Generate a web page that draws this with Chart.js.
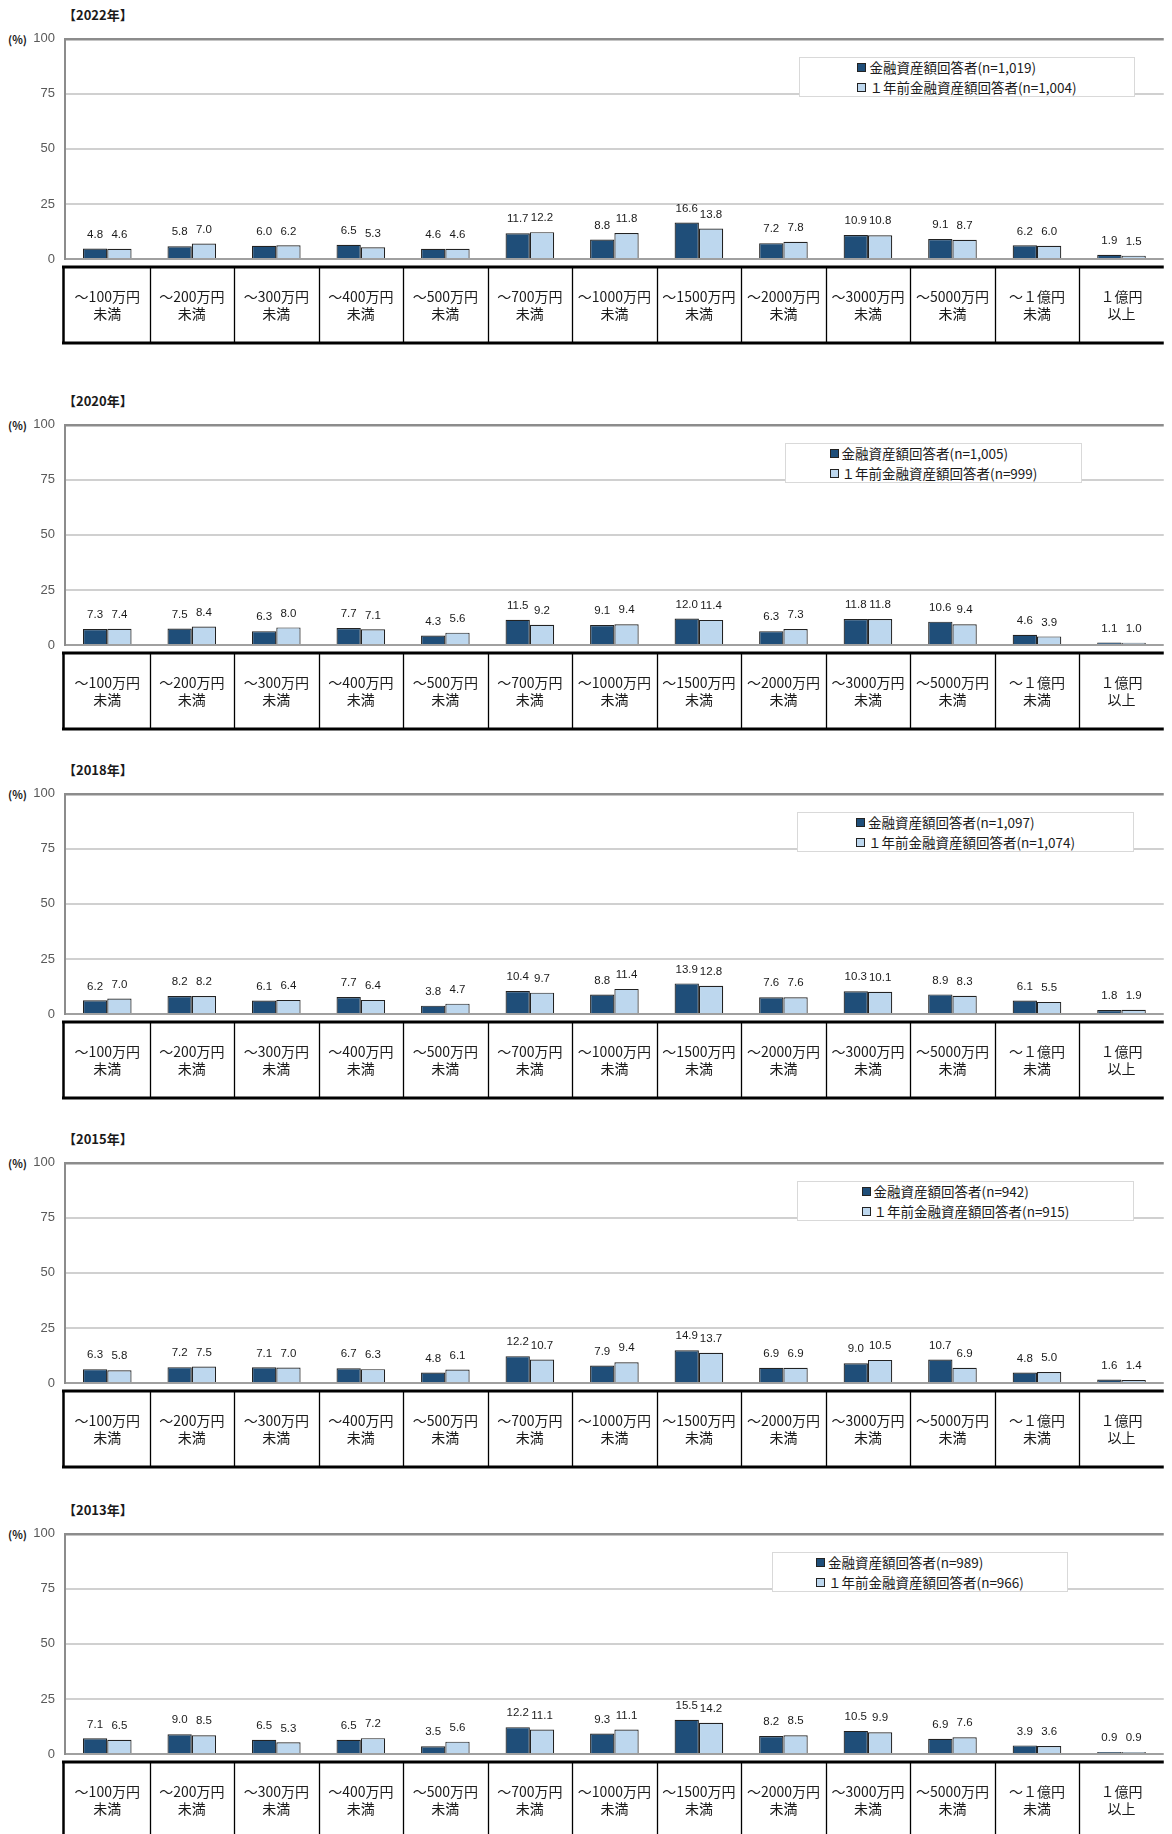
<!DOCTYPE html>
<html lang="ja">
<head>
<meta charset="utf-8">
<title>金融資産額の分布</title>
<script src="https://cdn.jsdelivr.net/npm/chart.js@4.4.1/dist/chart.umd.min.js"></script>
<style>
  html, body { margin: 0; padding: 0; background: #fff; }
  body { width: 1172px; height: 1834px; position: relative; overflow: hidden; font-family: "Noto Sans CJK JP", sans-serif; color: #1a1a1a; }
  canvas { position: absolute; left: 0; }
  .panel-title { position: absolute; left: 63px; font-size: 13px; font-weight: bold; line-height: 16px; }
  .unit { position: absolute; left: 8px; font-size: 11px; font-weight: bold; line-height: 14px; }
  .legend { position: absolute; height: 40px; border: 1px solid #d9d9d9; background: #fff; box-sizing: border-box;
            display: flex; align-items: center; justify-content: center; }
  .legend-inner { font-size: 13.5px; line-height: 20px; white-space: nowrap; }
  .mark { display: inline-block; width: 7px; height: 7px; border: 1px solid #222; margin-right: 3px; vertical-align: 1px; }
</style>
</head>
<body>
<script>
const CATEGORIES = [
  ['～100万円', '未満'], ['～200万円', '未満'], ['～300万円', '未満'], ['～400万円', '未満'],
  ['～500万円', '未満'], ['～700万円', '未満'], ['～1000万円', '未満'], ['～1500万円', '未満'],
  ['～2000万円', '未満'], ['～3000万円', '未満'], ['～5000万円', '未満'], ['～１億円', '未満'],
  ['１億円', '以上'],
];
const YEARS = ['2022年', '2020年', '2018年', '2015年', '2013年'];
const N_NOW = ['1,019', '1,005', '1,097', '942', '989'];
const N_PREV = ['1,004', '999', '1,074', '915', '966'];
const Y_TICKS = [0, 25, 50, 75, 100];

const NOW_2022 = [4.8, 5.8, 6.0, 6.5, 4.6, 11.7, 8.8, 16.6, 7.2, 10.9, 9.1, 6.2, 1.9];
const PREV_2022 = [4.6, 7.0, 6.2, 5.3, 4.6, 12.2, 11.8, 13.8, 7.8, 10.8, 8.7, 6.0, 1.5];
const NOW_2020 = [7.3, 7.5, 6.3, 7.7, 4.3, 11.5, 9.1, 12.0, 6.3, 11.8, 10.6, 4.6, 1.1];
const PREV_2020 = [7.4, 8.4, 8.0, 7.1, 5.6, 9.2, 9.4, 11.4, 7.3, 11.8, 9.4, 3.9, 1.0];
const NOW_2018 = [6.2, 8.2, 6.1, 7.7, 3.8, 10.4, 8.8, 13.9, 7.6, 10.3, 8.9, 6.1, 1.8];
const PREV_2018 = [7.0, 8.2, 6.4, 6.4, 4.7, 9.7, 11.4, 12.8, 7.6, 10.1, 8.3, 5.5, 1.9];
const NOW_2015 = [6.3, 7.2, 7.1, 6.7, 4.8, 12.2, 7.9, 14.9, 6.9, 9.0, 10.7, 4.8, 1.6];
const PREV_2015 = [5.8, 7.5, 7.0, 6.3, 6.1, 10.7, 9.4, 13.7, 6.9, 10.5, 6.9, 5.0, 1.4];
const NOW_2013 = [7.1, 9.0, 6.5, 6.5, 3.5, 12.2, 9.3, 15.5, 8.2, 10.5, 6.9, 3.9, 0.9];
const PREV_2013 = [6.5, 8.5, 5.3, 7.2, 5.6, 11.1, 11.1, 14.2, 8.5, 9.9, 7.6, 3.6, 0.9];

const SERIES = [
  [NOW_2022, PREV_2022], [NOW_2020, PREV_2020], [NOW_2018, PREV_2018],
  [NOW_2015, PREV_2015], [NOW_2013, PREV_2013],
];

// layout (page pixels)
const PLOT_TOPS = [39, 425, 794, 1163, 1534];
const LEGEND_LEFT = [799, 785, 797, 797, 772];
const LEGEND_WIDTH = [336, 297, 337, 337, 296];
// chart.js keeps about 18px above the plot for the top y tick label + its padding
const CANVAS_OFF = 18, PLOT_H = 220, AXIS_H = 90, Y_AXIS_W = 65;

const DARK = '#1f4e79';
const LIGHT = '#bdd7ee';
const NUM_FONT = '"Liberation Sans", Arial, sans-serif';
const JP_FONT = '"Noto Sans CJK JP", sans-serif';

const valueLabels = {
  id: 'valueLabels',
  afterDatasetsDraw(chart) {
    const ctx = chart.ctx;
    ctx.save();
    ctx.font = '11.5px ' + NUM_FONT;
    ctx.fillStyle = '#1a1a1a';
    ctx.textAlign = 'center';
    ctx.textBaseline = 'middle';
    chart.data.datasets.forEach((ds, di) => {
      chart.getDatasetMeta(di).data.forEach((bar, i) => {
        ctx.fillText(ds.data[i].toFixed(1), bar.x, bar.y - 14);
      });
    });
    ctx.restore();
  },
};

const categoryTable = {
  id: 'categoryTable',
  afterDraw(chart) {
    const ctx = chart.ctx;
    const xs = chart.scales.x;
    const zero = chart.chartArea.bottom;
    const top = zero + 8, bottom = zero + 84;
    const colW = (xs.right - xs.left) / xs.ticks.length;
    ctx.save();
    ctx.strokeStyle = '#000';
    ctx.lineWidth = 3;
    ctx.beginPath();
    ctx.moveTo(xs.left - 3, top); ctx.lineTo(xs.right, top);
    ctx.moveTo(xs.left - 3, bottom); ctx.lineTo(xs.right, bottom);
    ctx.stroke();
    ctx.lineWidth = 2.5;
    ctx.beginPath();
    ctx.moveTo(xs.left - 1.5, top); ctx.lineTo(xs.left - 1.5, bottom);
    ctx.stroke();
    ctx.lineWidth = 1.3;
    ctx.beginPath();
    for (let i = 0; i < xs.ticks.length - 1; i++) {
      const x = Math.round(xs.getPixelForTick(i) + colW / 2) + 0.5;
      ctx.moveTo(x, top); ctx.lineTo(x, bottom);
    }
    ctx.stroke();
    ctx.restore();
  },
};

function addText(cls, text, left, top) {
  const el = document.createElement('div');
  el.className = cls;
  el.textContent = text;
  el.style.top = top + 'px';
  if (left != null) el.style.left = left + 'px';
  document.body.appendChild(el);
  return el;
}

function addLegend(idx, labels) {
  const box = document.createElement('div');
  box.className = 'legend';
  box.style.left = LEGEND_LEFT[idx] + 'px';
  box.style.width = LEGEND_WIDTH[idx] + 'px';
  box.style.top = (PLOT_TOPS[idx] + 18) + 'px';
  const inner = document.createElement('div');
  inner.className = 'legend-inner';
  labels.forEach((lab, k) => {
    const line = document.createElement('div');
    const m = document.createElement('span');
    m.className = 'mark';
    m.style.background = k === 0 ? DARK : LIGHT;
    line.appendChild(m);
    line.appendChild(document.createTextNode(lab));
    inner.appendChild(line);
  });
  box.appendChild(inner);
  document.body.appendChild(box);
}

function makePanel(idx) {
  const plotTop = PLOT_TOPS[idx];
  addText('panel-title', '【' + YEARS[idx] + '】', null, plotTop - 32);
  addText('unit', '(%)', null, plotTop - 7);

  const canvas = document.createElement('canvas');
  canvas.width = 1172;
  canvas.height = CANVAS_OFF + PLOT_H + AXIS_H;
  canvas.style.top = (plotTop - CANVAS_OFF) + 'px';
  document.body.appendChild(canvas);

  const labels = ['金融資産額回答者(n=' + N_NOW[idx] + ')', '１年前金融資産額回答者(n=' + N_PREV[idx] + ')'];
  const [now, prev] = SERIES[idx];

  new Chart(canvas.getContext('2d'), {
    type: 'bar',
    data: {
      labels: CATEGORIES,
      datasets: [
        { label: labels[0], data: now, backgroundColor: DARK, borderColor: '#222', borderWidth: 1.2 },
        { label: labels[1], data: prev, backgroundColor: LIGHT, borderColor: '#222', borderWidth: 1.2 },
      ],
    },
    options: {
      responsive: false,
      animation: false,
      events: [],
      layout: { padding: 0 },
      datasets: { bar: { categoryPercentage: 0.575, barPercentage: 1 } },
      plugins: { legend: { display: false }, tooltip: { enabled: false } },
      scales: {
        x: {
          grid: { display: false, drawTicks: false },
          border: { display: false },
          ticks: { autoSkip: false, maxRotation: 0, padding: 29.5, color: '#1a1a1a', font: { family: JP_FONT, size: 14, lineHeight: 1.2 } },
          afterFit: s => { s.height = AXIS_H; },
        },
        y: {
          min: 0, max: 100,
          afterBuildTicks: s => { s.ticks = Y_TICKS.map(v => ({ value: v })); },
          grid: {
            drawTicks: false,
            color: c => c.tick.value === 100 ? '#8c8c8c' : (c.tick.value === 0 ? '#a0a0a0' : '#d0d0d0'),
            lineWidth: c => c.tick.value === 100 ? 2.5 : 2,
          },
          border: { display: true, color: '#8c8c8c', width: 2 },
          ticks: { padding: 10, color: '#595959', font: { family: NUM_FONT, size: 13 } },
          afterFit: s => { s.width = Y_AXIS_W; },
        },
      },
    },
    plugins: [valueLabels, categoryTable],
  });

  addLegend(idx, labels);
}

YEARS.forEach((_, i) => makePanel(i));
</script>
</body>
</html>
